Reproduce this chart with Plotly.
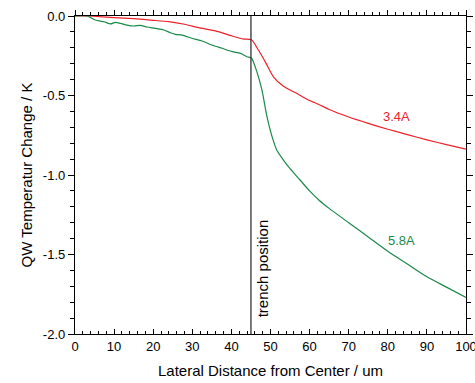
import plotly.graph_objects as go

# Data
x_34 = [0, 3, 10, 15, 20, 24, 28, 31.6, 35.9, 40.2, 43.1, 45.1, 46.9, 48.7, 50.8, 53.3, 56.8, 59.7, 62.5, 65, 70, 75, 80, 85, 90, 95, 100]
y_34 = [0, 0, -0.01, -0.017, -0.027, -0.036, -0.052, -0.073, -0.094, -0.126, -0.145, -0.150, -0.214, -0.290, -0.385, -0.442, -0.488, -0.528, -0.558, -0.588, -0.635, -0.675, -0.712, -0.746, -0.779, -0.809, -0.837]

x_58 = [0, 3.1, 5.2, 7.4, 9.1, 10.3, 11.6, 13.3, 15, 16.7, 18.4, 20.6, 22.7, 24.4, 25.7, 27.4, 29.9, 32.5, 35, 37.6, 40.2, 42.3, 44, 45.1,
        46.5, 47.8, 49.1, 50.4, 51.6, 53.3, 55, 57.5, 60, 62.5, 65, 70, 75, 80, 85, 90, 95, 100]
y_58 = [0, 0, -0.025, -0.036, -0.05, -0.04, -0.046, -0.057, -0.063, -0.059, -0.069, -0.078, -0.088, -0.105, -0.115, -0.12, -0.14, -0.157, -0.182, -0.203, -0.224, -0.235, -0.256, -0.264,
        -0.35, -0.465, -0.633, -0.759, -0.843, -0.906, -0.96, -1.03, -1.10, -1.16, -1.21, -1.30, -1.39, -1.48, -1.56, -1.64, -1.705, -1.77]

series_names = ["3.4A", "5.8A"]
series_colors = ["#f0202a", "#1a8a48"]
label_pos = [(82.3, -0.63), (83.6, -1.41)]

trench_x = 45
x_ticks = [0, 10, 20, 30, 40, 50, 60, 70, 80, 90, 100]
y_ticks = [0.0, -0.5, -1.0, -1.5, -2.0]
y_ticktext = ["0.0", "-0.5", "-1.0", "-1.5", "-2.0"]

FONT = "Liberation Sans, Arial, sans-serif"

fig = go.Figure()
fig.add_trace(go.Scatter(x=x_34, y=y_34, mode="lines", line=dict(color=series_colors[0], width=1.2, shape="spline", smoothing=0.7), showlegend=False))
fig.add_trace(go.Scatter(x=x_58, y=y_58, mode="lines", line=dict(color=series_colors[1], width=1.2, shape="spline", smoothing=0.7), showlegend=False))
# trench line
fig.add_trace(go.Scatter(x=[trench_x, trench_x], y=[0, -2], mode="lines", line=dict(color="#333333", width=1.3), showlegend=False))
# dummies for top / right axes
fig.add_trace(go.Scatter(x=[0, 100], y=[None, None], xaxis="x2", yaxis="y", showlegend=False, hoverinfo="skip"))
fig.add_trace(go.Scatter(x=[0, 100], y=[None, None], xaxis="x", yaxis="y2", showlegend=False, hoverinfo="skip"))

for name, col, (lx, ly) in zip(series_names, series_colors, label_pos):
    fig.add_annotation(x=lx, y=ly, text=name, showarrow=False, font=dict(family=FONT, size=13, color=col))

fig.add_annotation(x=47.9, y=-1.585, text="trench position", textangle=-90, showarrow=False,
                   font=dict(family=FONT, size=15, color="black"))

tick_common = dict(tickwidth=1, tickcolor="black", showline=True, linecolor="black", linewidth=1.3,
                   showgrid=False, zeroline=False, automargin=False)

fig.update_layout(
    width=475, height=383,
    margin=dict(l=74.5, r=9, t=16, b=49),
    plot_bgcolor="white", paper_bgcolor="white",
    font=dict(family=FONT, size=13, color="black"),
    xaxis=dict(range=[0, 100], tickvals=x_ticks, ticks="inside", ticklen=5, ticklabeloverflow="allow",
               minor=dict(dtick=2, ticks="inside", ticklen=3, tickwidth=1, tickcolor="black"),
               title=dict(text="Lateral Distance from Center / um", font=dict(size=15), standoff=12),
               tickfont=dict(size=13), **tick_common),
    xaxis2=dict(range=[0, 100], overlaying="x", side="top", tickvals=x_ticks, ticks="outside", ticklen=5,
                minor=dict(dtick=2, ticks="outside", ticklen=3, tickwidth=1, tickcolor="black"),
                showticklabels=False, **tick_common),
    yaxis=dict(range=[-2, 0], tickvals=y_ticks, ticktext=y_ticktext, ticks="outside", ticklen=6,
               minor=dict(dtick=0.1, ticks="outside", ticklen=4, tickwidth=1, tickcolor="black"),
               title=dict(text="QW Temperatur Change / K", font=dict(size=15), standoff=6),
               tickfont=dict(size=13), **tick_common),
    yaxis2=dict(range=[-2, 0], overlaying="y", side="right", tickvals=y_ticks, ticks="outside", ticklen=6,
                minor=dict(dtick=0.1, ticks="outside", ticklen=4, tickwidth=1, tickcolor="black"),
                showticklabels=False, **tick_common),
)

fig.write_html("out.html")
